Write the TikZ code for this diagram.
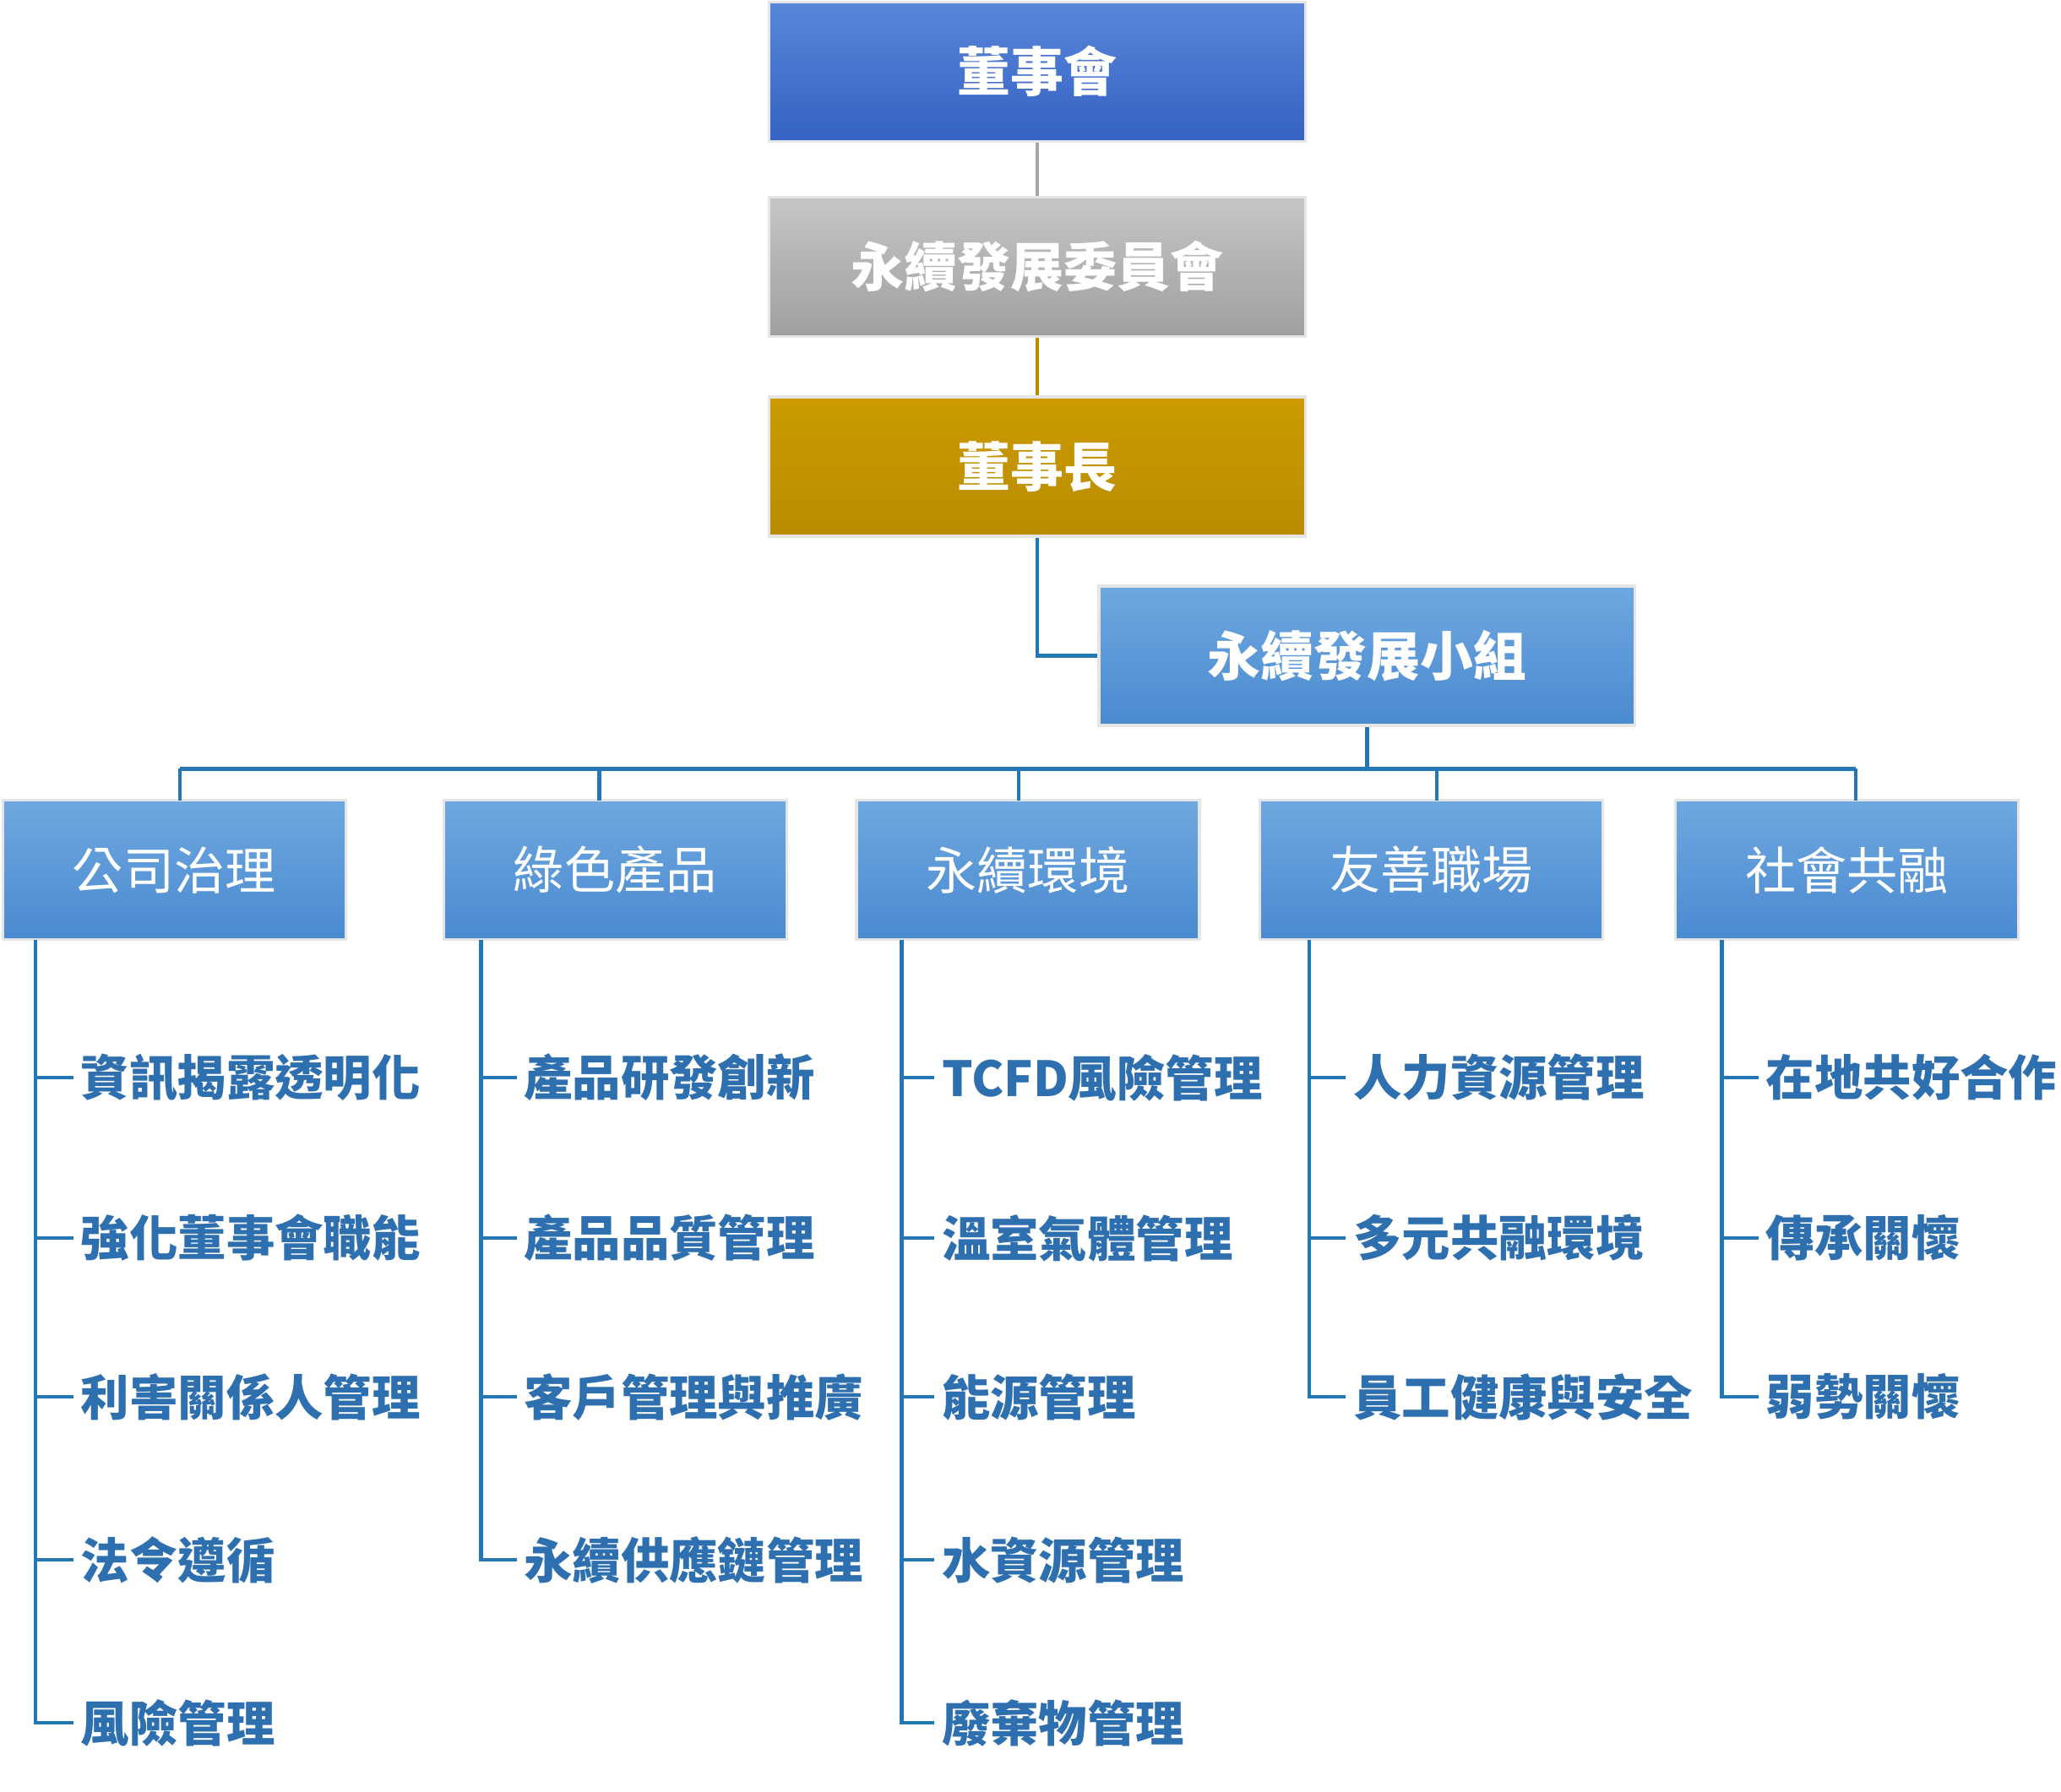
\documentclass[tikz,border=0pt]{standalone}
\usepackage{fontspec}
\setmainfont{Noto Sans CJK TC}
\usetikzlibrary{positioning}
\definecolor{lineblue}{HTML}{2277B4}
\definecolor{leafblue}{HTML}{2E6FB0}
\definecolor{boardtop}{HTML}{5A86DA}
\definecolor{boardbot}{HTML}{3462C2}
\definecolor{goldtop}{HTML}{CC9A00}
\definecolor{goldbot}{HTML}{B98C00}
\definecolor{grouptop}{HTML}{6FA8E0}
\definecolor{groupbot}{HTML}{4A8AD0}
\tikzset{
  box/.style={minimum width=8.16cm, minimum height=2.12cm, inner sep=0pt,
    text=white, font=\fontsize{23}{27}\selectfont\bfseries, draw=white!80!gray, line width=1.2pt},
  topic/.style={box, minimum width=5.22cm, font=\fontsize{22}{26}\selectfont,
    top color=grouptop, bottom color=groupbot},
  leaf/.style={anchor=west, inner sep=3pt, text=leafblue, font=\fontsize{21}{25}\selectfont\bfseries},
  line/.style={lineblue, line width=1.6pt}
}
\begin{document}
\begin{tikzpicture}[x=0.02cm, y=-0.02cm]
  \useasboundingbox (0,0) rectangle (1568,1363.6);
  % top chain
  \node [box, top color=boardtop, bottom color=boardbot] (board) at (789,54.5) {董事會};
  \node [box, top color=gray!45, bottom color=gray!75] (comm) at (789,203) {永續發展委員會};
  \node [box, top color=goldtop, bottom color=goldbot] (chair) at (789,355) {董事長};
  \node [box, top color=grouptop, bottom color=groupbot] (team) at (1040,499) {永續發展小組};
  \draw [gray!70, line width=1.6pt] (board) -- (comm);
  \draw [goldbot, line width=1.6pt] (comm) -- (chair);
  \draw [line] (chair.south) |- (team.west);

  % topics
  \node [topic] (gov) at (132.5,662) {公司治理};
  \node [topic] (green) at (468,662) {綠色產品};
  \node [topic] (env) at (782,662) {永續環境};
  \node [topic] (work) at (1089,662) {友善職場};
  \node [topic] (soc) at (1405,662) {社會共融};
  \coordinate (bus) at (1040,585);
  \draw [line] (team.south) -- (bus);
  \draw [line] (137,585) -- (1412,585);
  \draw [line] (137,585) -- (137,609);
  \draw [line] (456,585) -- (456,609);
  \draw [line] (775,585) -- (775,609);
  \draw [line] (1093,585) -- (1093,609);
  \draw [line] (1412,585) -- (1412,609);

  % leaves
  \coordinate (cgov) at (27,715);
  \coordinate (cgreen) at (366,715);
  \coordinate (cenv) at (686,715);
  \coordinate (cwork) at (996,715);
  \coordinate (csoc) at (1310,715);

  \node [leaf] (gov1) at (56,820) {資訊揭露透明化};
  \node [leaf] (gov2) at (56,942) {強化董事會職能};
  \node [leaf] (gov3) at (56,1063) {利害關係人管理};
  \node [leaf] (gov4) at (56,1187) {法令遵循};
  \node [leaf] (gov5) at (56,1311) {風險管理};
  \foreach \n in {gov1,gov2,gov3,gov4,gov5} \draw [line] (cgov) |- (\n.west);

  \node [leaf] (green1) at (393,820) {產品研發創新};
  \node [leaf] (green2) at (393,942) {產品品質管理};
  \node [leaf] (green3) at (393,1063) {客戶管理與推廣};
  \node [leaf] (green4) at (393,1187) {永續供應鏈管理};
  \foreach \n in {green1,green2,green3,green4} \draw [line] (cgreen) |- (\n.west);

  \node [leaf] (env1) at (711,820) {TCFD風險管理};
  \node [leaf] (env2) at (711,942) {溫室氣體管理};
  \node [leaf] (env3) at (711,1063) {能源管理};
  \node [leaf] (env4) at (711,1187) {水資源管理};
  \node [leaf] (env5) at (711,1311) {廢棄物管理};
  \foreach \n in {env1,env2,env3,env4,env5} \draw [line] (cenv) |- (\n.west);

  \node [leaf] (work1) at (1024,820) {人力資源管理};
  \node [leaf] (work2) at (1024,942) {多元共融環境};
  \node [leaf] (work3) at (1024,1063) {員工健康與安全};
  \foreach \n in {work1,work2,work3} \draw [line] (cwork) |- (\n.west);

  \node [leaf] (soc1) at (1338,820) {在地共好合作};
  \node [leaf] (soc2) at (1338,942) {傳承關懷};
  \node [leaf] (soc3) at (1338,1063) {弱勢關懷};
  \foreach \n in {soc1,soc2,soc3} \draw [line] (csoc) |- (\n.west);
\end{tikzpicture}
\end{document}
